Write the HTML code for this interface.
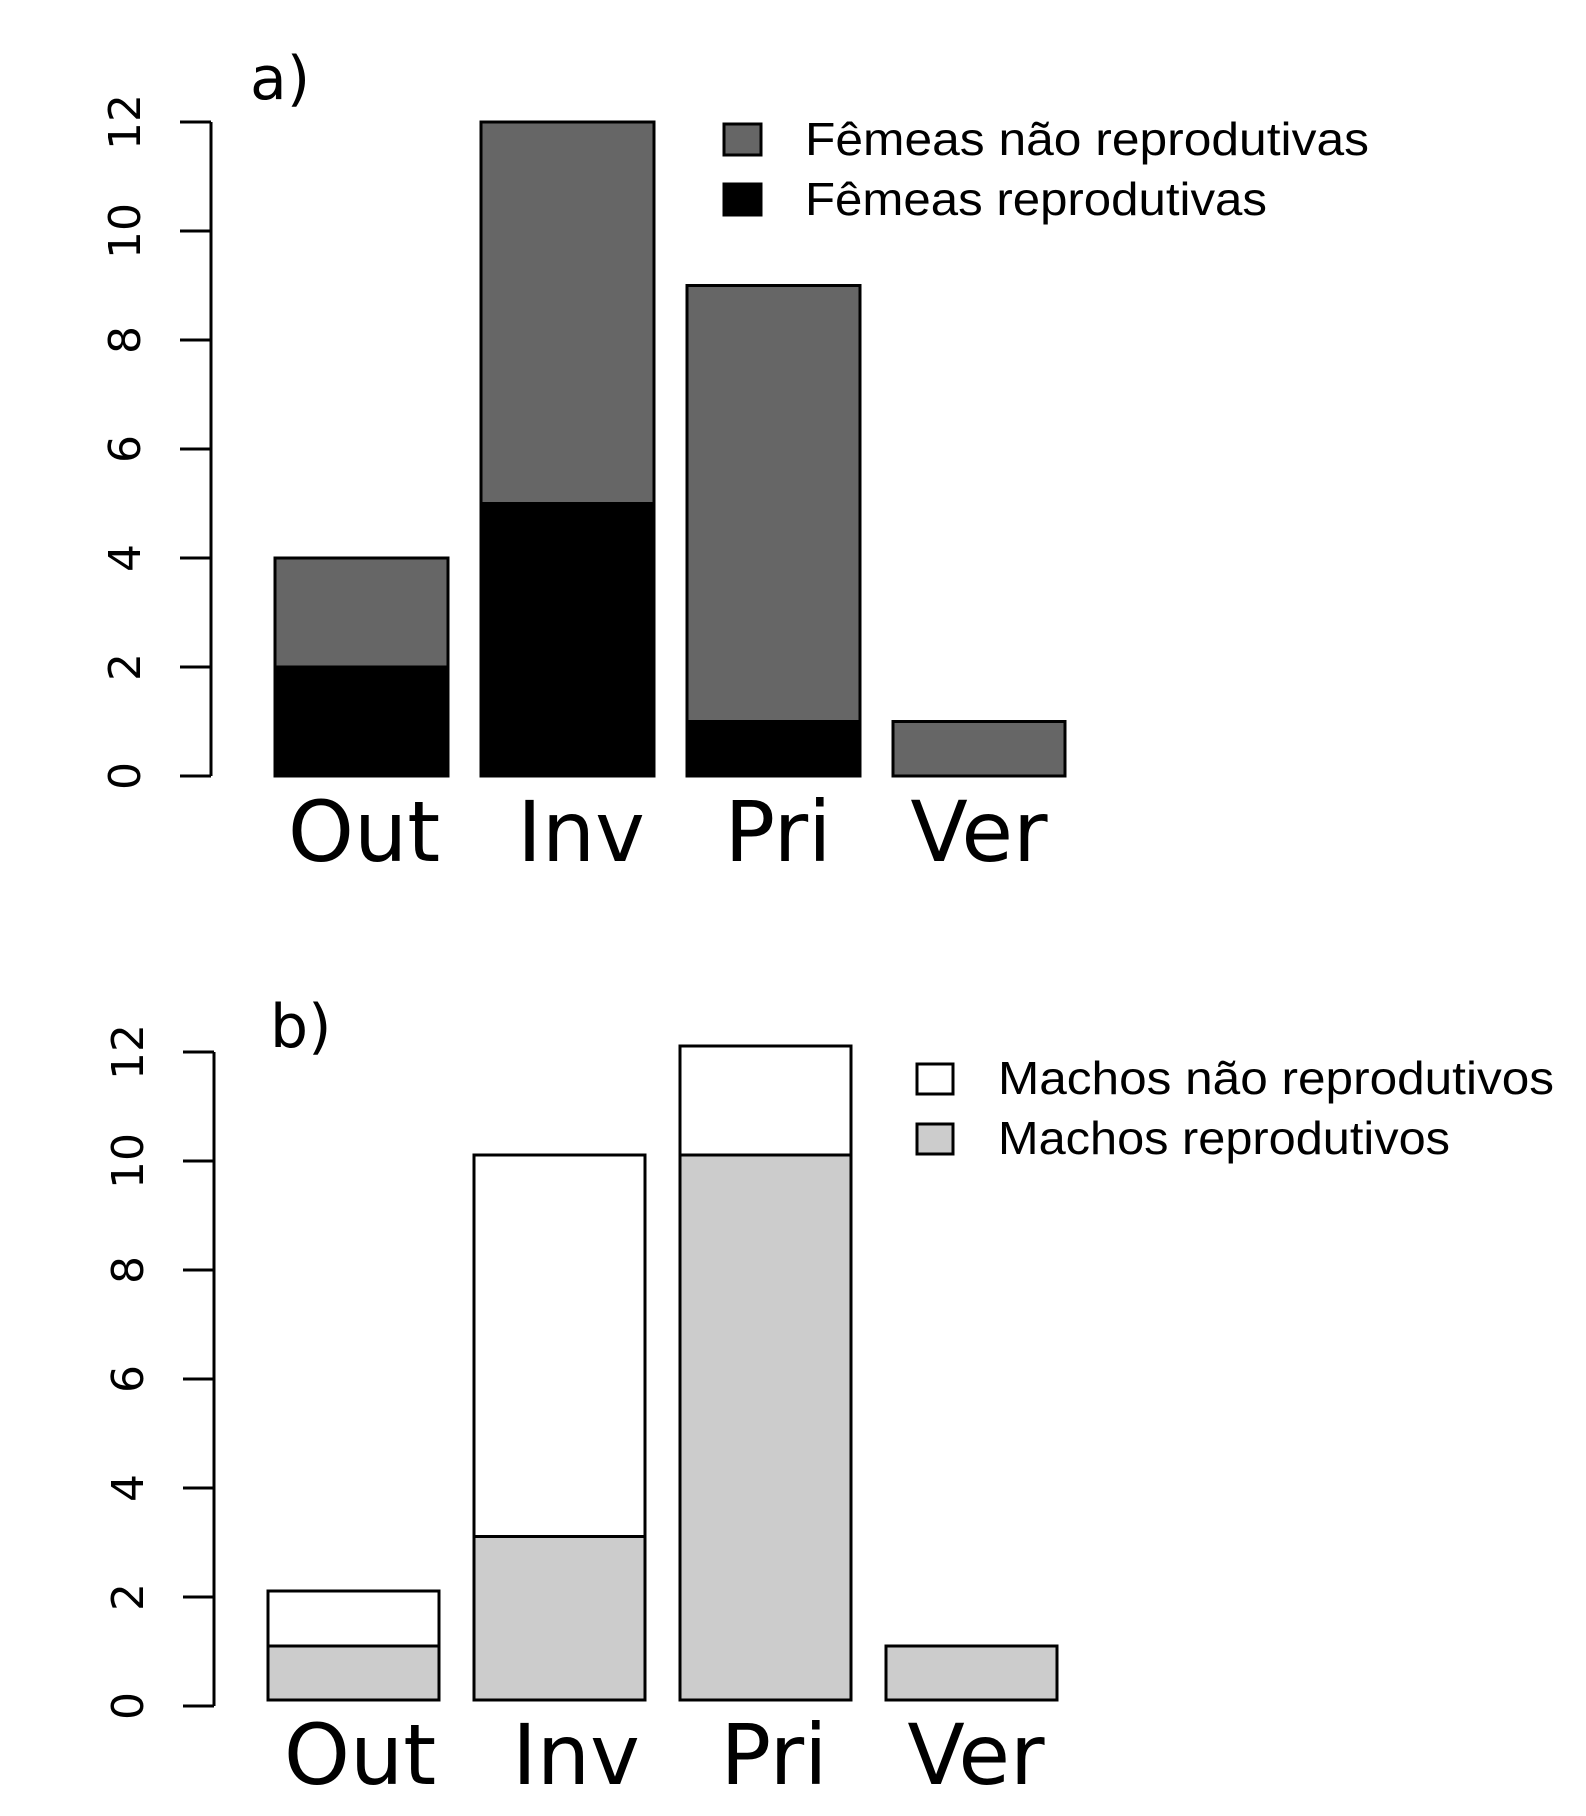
<!DOCTYPE html>
<html><head><meta charset="utf-8"><style>html,body{margin:0;padding:0;background:#fff}svg{display:block}</style></head>
<body>
<svg width="1586" height="1816" viewBox="0 0 1586 1816" xmlns="http://www.w3.org/2000/svg">
<rect width="1586" height="1816" fill="#fff"/>
<g font-family="DejaVu Sans, sans-serif" fill="#000">
<!-- Panel a -->
<text x="250" y="99" font-size="60">a)</text>
<g stroke="#000" stroke-width="3" fill="none">
<line x1="211" y1="122" x2="211" y2="776"/>
<line x1="180" y1="122" x2="211" y2="122"/>
<line x1="180" y1="231" x2="211" y2="231"/>
<line x1="180" y1="340" x2="211" y2="340"/>
<line x1="180" y1="449" x2="211" y2="449"/>
<line x1="180" y1="558" x2="211" y2="558"/>
<line x1="180" y1="667" x2="211" y2="667"/>
<line x1="180" y1="776" x2="211" y2="776"/>
</g>
<g font-size="44" text-anchor="middle">
<text transform="translate(140,122) rotate(-90)">12</text>
<text transform="translate(140,231) rotate(-90)">10</text>
<text transform="translate(140,340) rotate(-90)">8</text>
<text transform="translate(140,449) rotate(-90)">6</text>
<text transform="translate(140,558) rotate(-90)">4</text>
<text transform="translate(140,667) rotate(-90)">2</text>
<text transform="translate(140,776) rotate(-90)">0</text>
</g>
<g stroke="#000" stroke-width="3">
<rect x="275" y="667" width="173" height="109" fill="#000"/>
<rect x="275" y="558" width="173" height="109" fill="#666"/>
<rect x="481" y="503.5" width="173" height="272.5" fill="#000"/>
<rect x="481" y="122" width="173" height="381.5" fill="#666"/>
<rect x="687" y="721.5" width="173" height="54.5" fill="#000"/>
<rect x="687" y="285.5" width="173" height="436" fill="#666"/>
<rect x="893" y="721.5" width="172" height="54.5" fill="#666"/>
</g>
<g font-size="84" text-anchor="middle">
<text x="364" y="861">Out</text>
<text x="581" y="861">Inv</text>
<text x="778" y="861">Pri</text>
<text x="979" y="861">Ver</text>
</g>
<g stroke="#000" stroke-width="3">
<rect x="724" y="124" width="37" height="31" fill="#666"/>
<rect x="724" y="184" width="37" height="31" fill="#000"/>
</g>
<g font-family="Liberation Sans, sans-serif" font-size="46">
<text x="805" y="155" textLength="564" lengthAdjust="spacingAndGlyphs">Fêmeas não reprodutivas</text>
<text x="805" y="215" textLength="462" lengthAdjust="spacingAndGlyphs">Fêmeas reprodutivas</text>
</g>

<!-- Panel b -->
<text x="270" y="1047" font-size="60">b)</text>
<g stroke="#000" stroke-width="3" fill="none">
<line x1="214" y1="1052" x2="214" y2="1706"/>
<line x1="183" y1="1052" x2="214" y2="1052"/>
<line x1="183" y1="1161" x2="214" y2="1161"/>
<line x1="183" y1="1270" x2="214" y2="1270"/>
<line x1="183" y1="1379" x2="214" y2="1379"/>
<line x1="183" y1="1488" x2="214" y2="1488"/>
<line x1="183" y1="1597" x2="214" y2="1597"/>
<line x1="183" y1="1706" x2="214" y2="1706"/>
</g>
<g font-size="44" text-anchor="middle">
<text transform="translate(143,1052) rotate(-90)">12</text>
<text transform="translate(143,1161) rotate(-90)">10</text>
<text transform="translate(143,1270) rotate(-90)">8</text>
<text transform="translate(143,1379) rotate(-90)">6</text>
<text transform="translate(143,1488) rotate(-90)">4</text>
<text transform="translate(143,1597) rotate(-90)">2</text>
<text transform="translate(143,1706) rotate(-90)">0</text>
</g>
<g stroke="#000" stroke-width="3">
<rect x="268" y="1646" width="171" height="54" fill="#ccc"/>
<rect x="268" y="1591" width="171" height="55" fill="#fff"/>
<rect x="474" y="1536.5" width="171" height="163.5" fill="#ccc"/>
<rect x="474" y="1155" width="171" height="381.5" fill="#fff"/>
<rect x="680" y="1155" width="171" height="545" fill="#ccc"/>
<rect x="680" y="1046" width="171" height="109" fill="#fff"/>
<rect x="886" y="1646" width="171" height="54" fill="#ccc"/>
</g>
<g font-size="84" text-anchor="middle">
<text x="360" y="1784">Out</text>
<text x="576" y="1784">Inv</text>
<text x="774" y="1784">Pri</text>
<text x="976" y="1784">Ver</text>
</g>
<g stroke="#000" stroke-width="3">
<rect x="917" y="1064" width="36" height="30" fill="#fff"/>
<rect x="917" y="1124" width="36" height="30" fill="#ccc"/>
</g>
<g font-family="Liberation Sans, sans-serif" font-size="46">
<text x="998" y="1094" textLength="556" lengthAdjust="spacingAndGlyphs">Machos não reprodutivos</text>
<text x="998" y="1154" textLength="452" lengthAdjust="spacingAndGlyphs">Machos reprodutivos</text>
</g>
</g>
</svg>
</body></html>
